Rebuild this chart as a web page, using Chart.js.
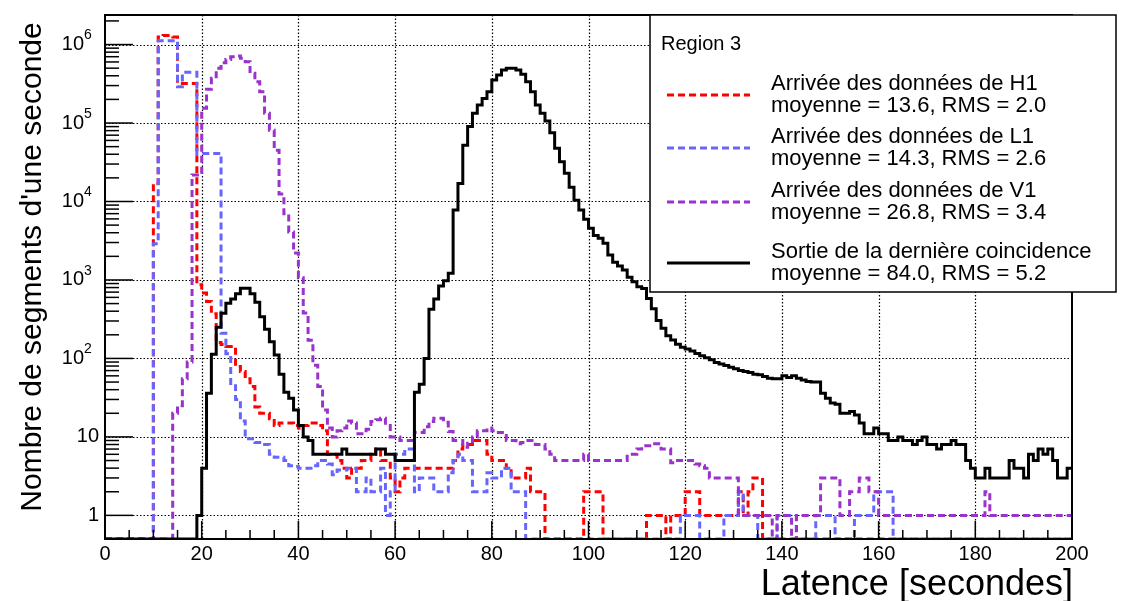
<!DOCTYPE html>
<html><head><meta charset="utf-8">
<script src="https://cdn.jsdelivr.net/npm/chart.js@4"></script>
<style>html,body{margin:0;padding:0;background:#fff;overflow:hidden}#wrap{width:1129px;height:601px;position:relative}</style>
</head><body><div id="wrap"><canvas id="c" width="1129" height="601"></canvas></div>
<script>
// 1-second bins, lower edges 0..199
const binLowEdges = Array.from({length: 200}, (_, i) => i);

const sortieCoinc = [
0,0,0,0,0,0,0,0,0,0, 0,0,0,0,0,0,0,0,0,1,
4,36,113,250,377,505,572,665,784,784, 665,520,340,235,163,111,63,37,31,22,
14,10,9,6,6,6,6,6,6,7, 6,6,6,6,6,6,7,7,6,6,
5,5,5,5,37,47,100,424,572,839, 980,1217,7800,17000,52000,90000,133000,170000,206000,251000,
353000,409000,473000,498000,498000,473000,417000,336000,251000,170000, 133000,106000,75000,47600,32100,22900,15200,10400,7800,5930,
4560,3700,3400,2940,2080,1680,1510,1340,1080,950, 822,780,580,430,305,243,194,172,152,139,
132,124,116,108,102,96,89,85,81,77, 74,70,68,66,63,62,59,56,55,55,
60,57,60,56,53,51,50,50,36,31, 27,26,20,20,21,19,15,11,11,13,
11,11,9,9,10,9,9,8,9,10, 8,8,7,8,8,9,8,8,5,4,
3,3,4,3,3,3,3,5,4,4, 3,6,5,7,6,7,5,3,3,4];

const arriveeH1 = [
0,0,0,0,0,0,0,0,0,0, 17000,1250000,1300000,1300000,1250000,320000,320000,320000,320000,870,
680,530,370,160,150,142,142,79,68,55, 44,24,20,20,17,14,15,15,15,14,
13,14,15,15,14,12,6,6,5,4, 3,4,4,5,5,6,7,5,5,3,
2,3,4,4,4,4,4,4,4,4, 4,4,5,7,8,8,9,9,9,6,
5,5,5,4,3,3,3,4,2,2, 2,0,0,0,0,0,0,0,0,2,
2,2,2,0,0,0,0,0,0,0, 0,0,1,1,1,1,0,1,1,1,
2,2,2,1,1,1,1,1,1,1, 1,2,1,2,3,3,0,0,0,0,
0,0,0,0,0,0,0,0,0,0, 0,0,0,0,0,0,0,0,0,0,
0,0,0,0,0,0,0,0,0,0, 0,0,0,0,0,0,0,0,0,0,
0,0,0,0,0,0,0,0,0,0, 0,0,0,0,0,0,0,0,0,0];

const arriveeL1 = [
0,0,0,0,0,0,0,0,0,0, 2900,1120000,1120000,1120000,1120000,290000,442000,442000,442000,41000,
41000,41000,41000,41000,210,115,45,30,16,9.5, 9.5,8.5,8,8,6,5.5,5.5,5,4.3,4.2,
4,4,4,4.3,5,5,4.5,3.3,3.8,3.8, 4,4,2,2,3,2,2,4,1,2,
6,6,7,7,2,3,3,3,2,2, 2,3.5,5,6,5,5,2,2,2,3.5,
3,3,4,4,2,2,2,0,0,0, 0,0,0,0,0,0,0,0,0,0,
0,0,0,0,0,0,0,0,0,0, 0,0,0,0,0,0,0,0,0,1,
1,1,1,0,0,0,0,0,1,1, 1,2,1,1,1,0,0,0,0,1,
1,1,1,0,0,0,0,1,1,1, 1,0,0,0,0,1,1,1,1,2,
2,2,2,0,0,0,0,0,0,0, 0,0,0,0,0,0,0,0,0,0,
0,0,0,0,0,0,0,0,0,0, 0,0,0,0,0,0,0,0,0,0];

const arriveeV1 = [
0,0,0,0,0,0,0,0,0,0, 0,0,0,0,20,25,55,90,21800,21800,
154000,270000,371000,498000,586000,647000,700000,713000,667000,604000, 430000,336000,250000,133000,81000,45000,12500,7000,4100,2200,
1070,380,170,82,44,22,13,10,12,13, 16,15,11,11,12.5,15.7,16.5,17.3,14,10,
10,9,9,9,11.4,11.4,13.5,15.7,17.3,17.3, 15.4,11.7,9,9,7.4,8.3,10,12,12,13,
12,11.4,11.4,9,9,8.2,8.5,9,9,8, 8,7,6,5,5,5,5,5,5,6,
5,5,5,5,5,5,5,5,6,6, 7,7.7,7.7,8.2,8.2,7,7,4.7,5,5,
5,5,4.5,4.3,4,3,3,3,3,3, 3,1,1,1,1,1,1,1,0,1,
1,1,0,1,1,1,1,1,3,3, 3,3,1,1,2,2,3,3,2,2,
1,1,1,1,1,1,1,1,1,1, 1,1,1,1,1,1,1,1,1,1,
1,1,2,1,1,1,1,1,1,1, 1,1,1,1,1,1,1,1,1,1];

const xTickLabels = ['0','20','40','60','80','100','120','140','160','180','200'];
const yTickExponents = [0,1,2,3,4,5,6];
const Y_MIN = 0.5, Y_MAX = 2.38e6;

const legendTitle = 'Region 3';
const legendEntries = [
  {l1: 'Arrivée des données de H1', l2: 'moyenne = 13.6, RMS = 2.0', color: '#ff0000', dash: [7,4], w: 3},
  {l1: 'Arrivée des données de L1', l2: 'moyenne = 14.3, RMS = 2.6', color: '#6666ff', dash: [7,4], w: 3},
  {l1: 'Arrivée des données de V1', l2: 'moyenne = 26.8, RMS = 3.4', color: '#9933cc', dash: [7,4], w: 3},
  {l1: 'Sortie de la dernière coincidence', l2: 'moyenne = 84.0, RMS = 5.2', color: '#000000', dash: [], w: 3}
];

// empty bins are drawn on the lower frame edge, as ROOT does on a log axis
function histPoints(values) {
  const pts = [];
  values.forEach((v, i) => {
    const yv = v > 0 ? v : Y_MIN;
    pts.push({x: binLowEdges[i], y: yv});
    pts.push({x: binLowEdges[i] + 1, y: yv});
  });
  return pts;
}

const FONT = '"Liberation Sans", Arial, Helvetica, sans-serif';

function seg(ctx, x1, y1, x2, y2) { ctx.beginPath(); ctx.moveTo(x1, y1); ctx.lineTo(x2, y2); ctx.stroke(); }

const rootStyle = {
  id: 'rootStyle',
  beforeDatasetsDraw(chart) {
    const {ctx, chartArea: a, scales: {x, y}} = chart;
    ctx.save();
    ctx.strokeStyle = '#000'; ctx.lineWidth = 1.2; ctx.setLineDash([1.5, 2]);
    for (let v = 20; v < 200; v += 20) {
      const px = Math.round(x.getPixelForValue(v)) + 0.5;
      seg(ctx, px, a.top, px, a.bottom);
    }
    yTickExponents.forEach(e => {
      const py = Math.round(y.getPixelForValue(Math.pow(10, e))) + 0.5;
      seg(ctx, a.left, py, a.right, py);
    });
    ctx.restore();
  },
  afterDatasetsDraw(chart) {
    const {ctx, chartArea: a, scales: {x, y}} = chart;
    ctx.save();
    ctx.setLineDash([]);
    ctx.strokeStyle = '#000';
    ctx.lineWidth = 2;
    ctx.strokeRect(a.left, a.top, a.right - a.left, a.bottom - a.top);
    ctx.lineWidth = 1.5;
    for (let v = 0; v <= 200; v += 5) {
      const px = x.getPixelForValue(v);
      const len = v % 20 === 0 ? 18 : 9;
      seg(ctx, px, a.bottom, px, a.bottom - len);
    }
    yTickExponents.forEach(e => {
      for (let m = 1; m <= 9; m++) {
        const val = m * Math.pow(10, e);
        if (val > y.max) continue;
        const py = y.getPixelForValue(val);
        seg(ctx, a.left, py, a.left + (m === 1 ? 28 : 14), py);
      }
    });
    ctx.fillStyle = '#000';
    ctx.font = '20px ' + FONT;
    ctx.textAlign = 'center'; ctx.textBaseline = 'middle';
    xTickLabels.forEach(t => {
      ctx.fillText(t, x.getPixelForValue(Number(t)), 554);
    });
    ctx.textBaseline = 'middle';
    yTickExponents.forEach(e => {
      const py = y.getPixelForValue(Math.pow(10, e));
      if (e === 0) { ctx.textAlign = 'right'; ctx.font = '20px ' + FONT; ctx.fillText('1', 99, py); }
      else if (e === 1) { ctx.textAlign = 'right'; ctx.font = '20px ' + FONT; ctx.fillText('10', 99, py); }
      else {
        ctx.font = '14px ' + FONT; ctx.textAlign = 'left';
        ctx.fillText(String(e), 84, py - 9);
        ctx.font = '20px ' + FONT; ctx.textAlign = 'right';
        ctx.fillText('10', 84, py);
      }
    });
    ctx.font = '36px ' + FONT; ctx.textAlign = 'right'; ctx.textBaseline = 'alphabetic';
    ctx.fillText('Latence [secondes]', 1073, 595);
    ctx.save();
    ctx.translate(41, 267); ctx.rotate(-Math.PI / 2);
    ctx.font = '30px ' + FONT; ctx.textAlign = 'center'; ctx.textBaseline = 'alphabetic';
    ctx.fillText("Nombre de segments d'une seconde", 0, 0);
    ctx.restore();
    const L = {x: 650, y: 15, w: 466, h: 277};
    ctx.fillStyle = '#fff';
    ctx.fillRect(L.x, L.y, L.w, L.h);
    ctx.lineWidth = 1.5; ctx.strokeStyle = '#000';
    ctx.strokeRect(L.x, L.y, L.w, L.h);
    ctx.fillStyle = '#000';
    ctx.font = '20px ' + FONT; ctx.textAlign = 'left'; ctx.textBaseline = 'middle';
    ctx.fillText(legendTitle, 661, 44);
    const rowY = [95, 148, 202, 263];
    legendEntries.forEach((en, i) => {
      const cy = rowY[i];
      ctx.strokeStyle = en.color; ctx.lineWidth = en.w; ctx.setLineDash(en.dash);
      seg(ctx, 667, cy, 750, cy);
      ctx.setLineDash([]);
      ctx.fillStyle = '#000';
      ctx.font = '22px ' + FONT;
      ctx.fillText(en.l1, 771, cy - 11);
      ctx.fillText(en.l2, 771, cy + 11);
    });
    ctx.restore();
  }
};

const seriesOrder = [
  {label: 'Sortie de la dernière coincidence', data: sortieCoinc, color: '#000000', dash: [], w: 3},
  {label: 'Arrivée des données de V1', data: arriveeV1, color: '#9933cc', dash: [7,4], w: 3},
  {label: 'Arrivée des données de L1', data: arriveeL1, color: '#6666ff', dash: [7,4], w: 3},
  {label: 'Arrivée des données de H1', data: arriveeH1, color: '#ff0000', dash: [7,4], w: 3}
];

new Chart(document.getElementById('c'), {
  type: 'line',
  data: {
    datasets: seriesOrder.map(s => ({
      label: s.label,
      data: histPoints(s.data),
      borderColor: s.color,
      borderWidth: s.w,
      borderDash: s.dash,
      pointRadius: 0,
      fill: false,
      tension: 0,
      borderJoinStyle: 'miter',
      borderCapStyle: 'butt'
    }))
  },
  options: {
    responsive: false,
    animation: false,
    devicePixelRatio: 1,
    layout: {padding: {left: 105, right: 57, top: 15, bottom: 62}},
    plugins: {legend: {display: false}, tooltip: {enabled: false}},
    scales: {
      x: {type: 'linear', min: 0, max: 200, display: false},
      y: {type: 'logarithmic', min: Y_MIN, max: Y_MAX, display: false}
    }
  },
  plugins: [rootStyle]
});
</script>
</body></html>
